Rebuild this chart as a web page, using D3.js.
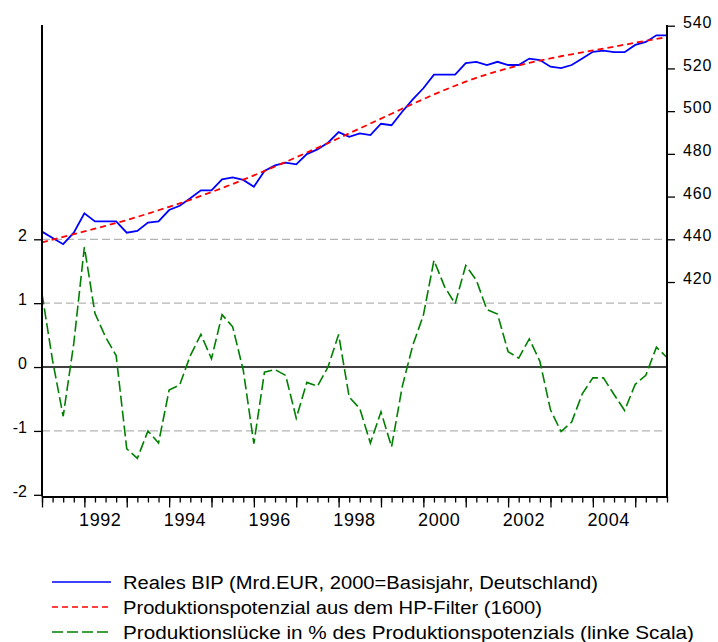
<!DOCTYPE html>
<html>
<head>
<meta charset="utf-8">
<script src="https://cdn.jsdelivr.net/npm/d3@7"></script>
<style>
  body { margin: 0; background: #fff; }
  svg text { font-family: Arial, "Liberation Sans", sans-serif; fill: #000; }
</style>
</head>
<body>
<svg id="chart" width="718" height="642"></svg>
<script>
// quarterly observations 1991Q1 .. 2005Q4
const years = d3.range(1991, 2006);
const quarters = [];
years.forEach(y => [1, 2, 3, 4].forEach(q => quarters.push(y + "Q" + q)));

// Reales BIP (Mrd. EUR), right scale
const bip = [443.6, 440.6, 437.7, 443.1, 452.2, 448.4, 448.4, 448.4, 443.1, 443.9,
             447.8, 448.4, 453.7, 455.7, 459.2, 462.9, 462.9, 468.1, 469.0, 467.8,
             464.6, 472.0, 474.6, 475.9, 475.1, 479.9, 482.1, 485.2, 490.2, 488.0,
             489.6, 488.8, 494.1, 493.4, 499.7, 505.5, 510.7, 517.1, 517.1, 517.1,
             522.5, 523.1, 521.6, 523.1, 521.6, 521.6, 524.6, 523.9, 520.8, 520.1,
             521.6, 524.6, 527.8, 528.3, 527.6, 527.6, 531.0, 532.4, 535.5, 535.5];

// Produktionspotenzial (HP-Filter 1600), right scale
const potenzial = [438.6, 439.9, 441.1, 442.4, 443.7, 445.0, 446.3, 447.6, 449.0, 450.5,
                   452.0, 453.6, 455.2, 456.8, 458.5, 460.3, 462.1, 464.0, 465.9, 467.9,
                   469.9, 472.0, 474.1, 476.2, 478.4, 480.6, 482.8, 485.0, 487.3, 489.6,
                   491.9, 494.2, 496.5, 498.8, 501.1, 503.4, 505.6, 507.8, 509.9, 511.9,
                   513.8, 515.6, 517.2, 518.7, 520.1, 521.4, 522.6, 523.7, 524.7, 525.7,
                   526.6, 527.5, 528.4, 529.3, 530.2, 531.1, 532.0, 532.9, 533.8, 534.7];

// Produktionslücke in %, left scale
const luecke = [1.15, 0.10, -0.77, 0.37, 1.88, 0.84, 0.47, 0.18, -1.28, -1.43,
                -1.00, -1.19, -0.36, -0.28, 0.18, 0.51, 0.13, 0.82, 0.63, -0.05,
                -1.20, -0.08, -0.04, -0.13, -0.80, -0.24, -0.30, 0.00, 0.51, -0.47,
                -0.65, -1.19, -0.70, -1.25, -0.31, 0.34, 0.81, 1.67, 1.26, 0.99,
                1.59, 1.36, 0.90, 0.83, 0.24, 0.14, 0.44, 0.09, -0.67, -1.01,
                -0.86, -0.42, -0.17, -0.17, -0.43, -0.68, -0.27, -0.13, 0.31, 0.15];

const leftTicks = [-2, -1, 0, 1, 2];
const rightTicks = [420, 440, 460, 480, 500, 520, 540];
const gridValues = [2, 1, -1];
const yearLabels = [1992, 1994, 1996, 1998, 2000, 2002, 2004];

const legendItems = [
  {label: "Reales BIP (Mrd.EUR, 2000=Basisjahr, Deutschland)", color: "#0000ff", dash: null, w: 475},
  {label: "Produktionspotenzial aus dem HP-Filter (1600)", color: "#ff0000", dash: "6,4", w: 419},
  {label: "Produktionslücke in % des Produktionspotenzials (linke Scala)", color: "#008000", dash: "11,4", w: 571}
];

const plotL = 42, plotR = 667, plotT = 25, plotB = 496.5;

const svg = d3.select("#chart");

const x = d3.scaleLinear().domain([0, quarters.length - 1]).range([plotL, plotR]);
const yL = d3.scaleLinear().domain([-2, 2]).range([494.8, 239.3]);
const yR = d3.scaleLinear().domain([440, 540]).range([239.3, 25.7]);

// grid lines
svg.append("g").selectAll("line").data(gridValues).join("line")
  .attr("x1", plotL).attr("x2", plotR)
  .attr("y1", d => yL(d)).attr("y2", d => yL(d))
  .attr("stroke", "#b4b4b4").attr("stroke-width", 1.3)
  .attr("stroke-dasharray", "8,4");

// zero line
svg.append("line")
  .attr("x1", plotL).attr("x2", plotR)
  .attr("y1", yL(0)).attr("y2", yL(0))
  .attr("stroke", "#000").attr("stroke-width", 1.5);

// series
let lineR = d3.line().x((d, i) => x(i)).y(d => yR(d));
let lineL = d3.line().x((d, i) => x(i)).y(d => yL(d));

svg.append("path").attr("d", lineL(luecke))
  .attr("fill", "none").attr("stroke", "#008000").attr("stroke-width", 1.6)
  .attr("stroke-dasharray", "11,4");

svg.append("path").attr("d", lineR(bip))
  .attr("fill", "none").attr("stroke", "#0000ff").attr("stroke-width", 1.8);

svg.append("path").attr("d", lineR(potenzial))
  .attr("fill", "none").attr("stroke", "#ff0000").attr("stroke-width", 1.8)
  .attr("stroke-dasharray", "6,4");

// axis lines
svg.append("line").attr("x1", plotL).attr("x2", plotL).attr("y1", plotT).attr("y2", plotB)
  .attr("stroke", "#000").attr("stroke-width", 2);
svg.append("line").attr("x1", plotR).attr("x2", plotR).attr("y1", plotT).attr("y2", plotB)
  .attr("stroke", "#000").attr("stroke-width", 2);

// bottom axis: quarter ticks, year ticks, labels
let minorAxis = svg.append("g").attr("transform", `translate(0,${plotB})`)
  .call(d3.axisBottom(x).tickValues(d3.range(quarters.length)).tickSize(6).tickSizeOuter(0).tickFormat(""));
let majorIdx = quarters.map((q, i) => q.endsWith("Q1") ? i : -1).filter(i => i >= 0);
let majorAxis = svg.append("g").attr("transform", `translate(0,${plotB})`)
  .call(d3.axisBottom(x).tickValues(majorIdx).tickSize(11).tickSizeOuter(0).tickFormat(""));
[minorAxis, majorAxis].forEach(g => {
  g.select(".domain").attr("stroke-width", 2);
  g.selectAll(".tick line").attr("stroke-width", 1.3);
});

svg.append("g").selectAll("text").data(yearLabels).join("text")
  .attr("x", d => x(quarters.indexOf(d + "Q1") + 1.5))
  .attr("y", 526)
  .attr("text-anchor", "middle")
  .attr("font-size", 18)
  .attr("letter-spacing", 0.6)
  .text(d => d);

// left axis
let la = svg.append("g").attr("transform", `translate(${plotL},0)`)
  .call(d3.axisLeft(yL).tickValues(leftTicks).tickSize(8).tickPadding(7).tickFormat(d => String(d)));
la.select(".domain").remove();
la.selectAll(".tick line").attr("stroke-width", 1.3);
la.selectAll(".tick text").attr("font-size", 16).attr("dy", "0.1em");

// right axis
let ra = svg.append("g").attr("transform", `translate(${plotR},0)`)
  .call(d3.axisRight(yR).tickValues(rightTicks).tickSize(8).tickPadding(8));
ra.select(".domain").remove();
ra.selectAll(".tick line").attr("stroke-width", 1.3);
ra.selectAll(".tick text").attr("font-size", 16).attr("letter-spacing", 0.8).attr("dy", "0.1em");

// legend
let lg = svg.append("g").selectAll("g").data(legendItems).join("g")
  .attr("transform", (d, i) => `translate(0,${582 + i * 25})`);
lg.append("line").attr("x1", 52).attr("x2", 111)
  .attr("stroke", d => d.color).attr("stroke-width", 1.6)
  .attr("stroke-dasharray", d => d.dash);
lg.append("text").attr("x", 123).attr("y", 6.5)
  .attr("font-size", 18)
  .attr("textLength", d => d.w).attr("lengthAdjust", "spacingAndGlyphs")
  .text(d => d.label);
</script>
</body>
</html>
